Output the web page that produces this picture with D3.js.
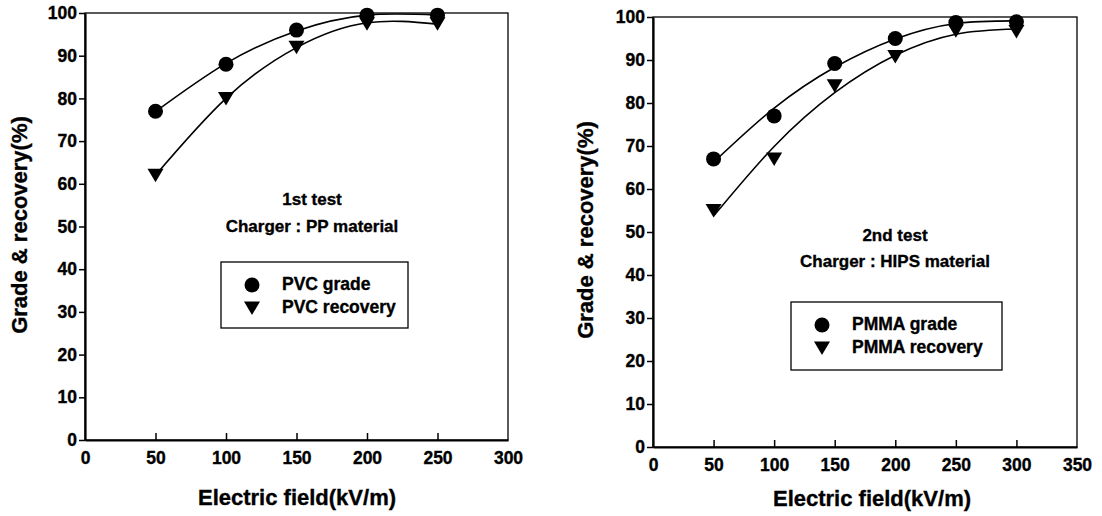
<!DOCTYPE html>
<html>
<head>
<meta charset="utf-8">
<script src="https://cdn.jsdelivr.net/npm/d3@7"></script>
<style>
  body { margin: 0; background: #fff; }
  svg text { font-family: "Liberation Sans", Arial, sans-serif; font-weight: bold; fill: #000; stroke: #000; stroke-width: 0.35px; }
</style>
</head>
<body>
<svg id="chart" width="1102" height="516"></svg>
<script>
// values
var yTicks = [0, 10, 20, 30, 40, 50, 60, 70, 80, 90, 100];

var field1 = [50, 100, 150, 200, 250];
var pvcGrade = [77, 88, 96, 99.5, 99.5];
var pvcRecovery = [62, 80, 92, 97.5, 97.5];
// fitted curves, read at the same fields
var pvcGradeFit = [76.9, 88.2, 95.8, 99.5, 99.5];
var pvcRecoveryFit = [62, 80, 91.9, 97.7, 97.4];
var xTicks1 = [0, 50, 100, 150, 200, 250, 300];

var field2 = [50, 100, 150, 200, 250, 300];
var pmmaGrade = [67, 77, 89.2, 95, 98.7, 98.9];
var pmmaRecovery = [55, 67, 84, 90.8, 96.8, 96.6];
var pmmaGradeFit = [66.2, 78.8, 88.3, 94.9, 98.5, 99.1];
var pmmaRecoveryFit = [53.7, 69.9, 82.4, 91.1, 96.0, 97.2];
var xTicks2 = [0, 50, 100, 150, 200, 250, 300, 350];

var yTitle = "Grade & recovery(%)";
var xTitle = "Electric field(kV/m)";

var svg = d3.select("#chart");
svg.append("rect").attr("width", 1102).attr("height", 516).attr("fill", "#fff");

var triPath = "M-8,-6.5L8,-6.5L0,7Z";

function drawPanel(p) {
  var width = p.right - p.left;
  var height = p.bottom - p.top;
  var g = svg.append("g").attr("transform", `translate(${p.left}, ${p.top})`);

  var x = d3.scaleLinear().domain([0, p.xMax]).range([0, width]);
  var y = d3.scaleLinear().domain([0, 100]).range([height, 0]);

  // frame (top / right thin)
  g.append("rect")
    .attr("width", width).attr("height", height)
    .attr("fill", "none").attr("stroke", "#000").attr("stroke-width", 1.3);

  var xAxis = g.append("g")
    .attr("transform", `translate(0, ${height})`)
    .call(d3.axisBottom(x).tickValues(p.xTicks).tickSizeInner(-7).tickSizeOuter(0).tickPadding(12));
  var yAxis = g.append("g")
    .call(d3.axisLeft(y).tickValues(yTicks).tickSizeInner(6).tickSizeOuter(0).tickPadding(2));

  [xAxis, yAxis].forEach(function(a) {
    a.attr("font-size", null).attr("font-family", null);
    a.select(".domain").attr("stroke-width", 2.2);
    a.selectAll(".tick line").attr("stroke-width", 1.5);
    a.selectAll(".tick text").attr("font-size", "17.5px");
  });
  xAxis.selectAll(".tick").filter(function(d) { return d === 0 || d === p.xMax; }).select("line").remove();

  var line = d3.line()
    .x(d => x(d[0]))
    .y(d => y(d[1]))
    .curve(d3.curveNatural);

  [p.gradeFit, p.recoveryFit].forEach(function(vals) {
    g.append("path")
      .datum(p.field.map((f, i) => [f, vals[i]]))
      .attr("d", line)
      .attr("fill", "none").attr("stroke", "#000").attr("stroke-width", 1.6);
  });

  g.selectAll("circle.grade")
    .data(p.field)
    .enter()
    .append("circle")
    .attr("cx", d => x(d))
    .attr("cy", (d, i) => y(p.grade[i]))
    .attr("r", 7.5)
    .attr("fill", "#000");

  g.selectAll("path.rec")
    .data(p.field)
    .enter()
    .append("path")
    .attr("class", "rec")
    .attr("d", triPath)
    .attr("transform", (d, i) => `translate(${x(d)}, ${y(p.recovery[i])})`)
    .attr("fill", "#000");

  // notes
  g.append("text").attr("x", p.noteX - p.left).attr("y", p.noteY1 - p.top)
    .attr("text-anchor", "middle").attr("font-size", "17px").text(p.note1);
  g.append("text").attr("x", p.noteX - p.left).attr("y", p.noteY2 - p.top)
    .attr("text-anchor", "middle").attr("font-size", "17px").text(p.note2);

  // legend
  var lg = svg.append("g").attr("transform", `translate(${p.legend[0]}, ${p.legend[1]})`);
  lg.append("rect").attr("width", p.legend[2]).attr("height", p.legend[3])
    .attr("fill", "#fff").attr("stroke", "#000").attr("stroke-width", 1.3);
  lg.append("circle").attr("cx", 31).attr("cy", 23).attr("r", 7.5).attr("fill", "#000");
  lg.append("path").attr("d", triPath).attr("transform", "translate(31, 46)").attr("fill", "#000");
  lg.append("text").attr("x", 61).attr("y", 28).attr("font-size", "17.5px").text(p.names[0]);
  lg.append("text").attr("x", 61).attr("y", 51).attr("font-size", "17.5px").text(p.names[1]);

  // axis titles
  svg.append("text")
    .attr("transform", `translate(${p.yTitle[0]}, ${p.yTitle[1]}) rotate(-90)`)
    .attr("text-anchor", "middle").attr("font-size", "22px").text(yTitle);
  svg.append("text")
    .attr("x", p.xTitle[0]).attr("y", p.xTitle[1])
    .attr("text-anchor", "middle").attr("font-size", "22px").text(xTitle);
}

drawPanel({
  left: 85, top: 13, right: 508, bottom: 440, xMax: 300, xTicks: xTicks1,
  field: field1, grade: pvcGrade, recovery: pvcRecovery,
  gradeFit: pvcGradeFit, recoveryFit: pvcRecoveryFit,
  note1: "1st test", note2: "Charger : PP material", noteX: 312, noteY1: 205, noteY2: 232,
  legend: [221, 262, 187, 66], names: ["PVC grade", "PVC recovery"],
  yTitle: [27, 225], xTitle: [297, 505]
});

drawPanel({
  left: 653, top: 17, right: 1077, bottom: 447, xMax: 350, xTicks: xTicks2,
  field: field2, grade: pmmaGrade, recovery: pmmaRecovery,
  gradeFit: pmmaGradeFit, recoveryFit: pmmaRecoveryFit,
  note1: "2nd test", note2: "Charger : HIPS material", noteX: 895, noteY1: 241, noteY2: 267,
  legend: [791, 302, 211, 68], names: ["PMMA grade", "PMMA recovery"],
  yTitle: [593, 230], xTitle: [872, 506]
});
</script>
</body>
</html>
